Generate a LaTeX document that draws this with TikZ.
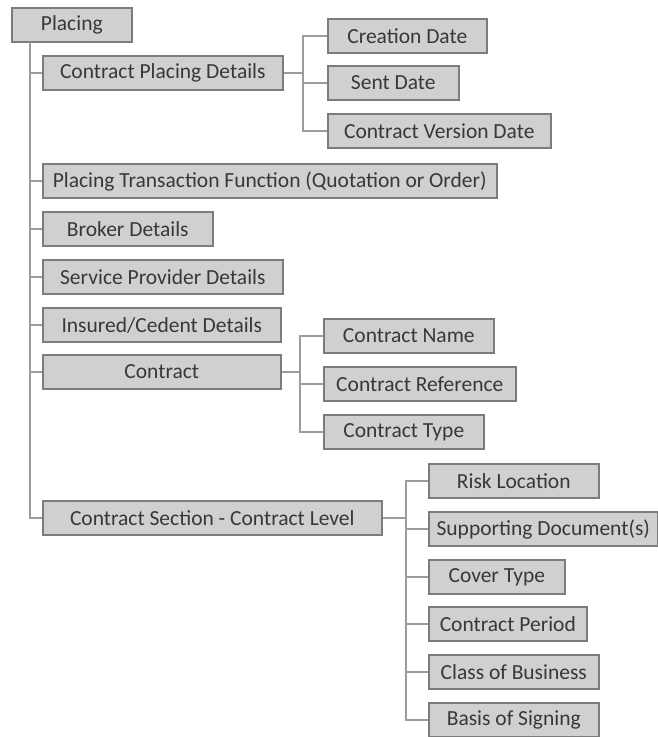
\documentclass[tikz,border=0pt]{standalone}
\usepackage{fontspec}
\setmainfont{Carlito}
\usepackage{tikz}
\usetikzlibrary{positioning}
\definecolor{boxfill}{HTML}{D0D0D0}
\definecolor{boxline}{HTML}{7C7C7C}
\definecolor{linkline}{HTML}{9C9C9C}
\definecolor{boxtext}{HTML}{383838}

\begin{document}
\begin{tikzpicture}
	[x=1pt, y=-1pt, font=\fontsize{21.5}{24}\selectfont,
	item/.style	= {rectangle, draw=boxline, fill=boxfill, line width=1.6pt, text=boxtext, anchor=west, inner sep=0pt, minimum height=34pt},
	link/.style	= {draw=linkline, line width=1.6pt}]
	
	\useasboundingbox (0,0) rectangle (657,737);
	
	% level one
	\node at (11, 25)	[item, minimum width=120pt]	(placing)	{Placing};
	\node at (42, 73)	[item, minimum width=240pt]	(cpd)		{Contract Placing Details};
	\node at (42, 181)	[item, minimum width=454pt]	(ptf)		{Placing Transaction Function (Quotation or Order)};
	\node at (42, 229)	[item, minimum width=170pt]	(broker)	{Broker Details};
	\node at (42, 277)	[item, minimum width=240pt]	(spd)		{Service Provider Details};
	\node at (42, 325)	[item, minimum width=238pt]	(insured)	{Insured/Cedent Details};
	\node at (42, 372)	[item, minimum width=238pt]	(contract)	{Contract};
	\node at (42, 518)	[item, minimum width=339pt]	(csec)		{Contract Section - Contract Level};
	
	% placing details
	\node at (327, 36)	[item, minimum width=159pt]	(creation)	{Creation Date};
	\node at (327, 83)	[item, minimum width=131pt]	(sent)		{Sent Date};
	\node at (327, 131)	[item, minimum width=223pt]	(cvd)		{Contract Version Date};
	
	% contract
	\node at (323, 336)	[item, minimum width=170pt]	(cname)		{Contract Name};
	\node at (323, 384)	[item, minimum width=192pt]	(cref)		{Contract Reference};
	\node at (323, 432)	[item, minimum width=160pt]	(ctype)		{Contract Type};
	
	% contract section
	\node at (428, 481)	[item, minimum width=170pt]	(risk)		{Risk Location};
	\node at (428, 529)	[item, minimum width=229pt]	(supp)		{Supporting Document(s)};
	\node at (428, 577)	[item, minimum width=136pt]	(cover)		{Cover Type};
	\node at (428, 624)	[item, minimum width=158pt]	(period)	{Contract Period};
	\node at (428, 672)	[item, minimum width=170pt]	(class)		{Class of Business};
	\node at (428, 720)	[item, minimum width=170pt]	(basis)		{Basis of Signing};
	
	\coordinate (trunk)		at (30, 42);
	\coordinate (cpdfork)	at (303, 73);
	\coordinate (confork)	at (300, 372);
	\coordinate (secfork)	at (406, 518);
	
	\draw [link] (trunk) |- (cpd.west);
	\draw [link] (trunk) |- (ptf.west);
	\draw [link] (trunk) |- (broker.west);
	\draw [link] (trunk) |- (spd.west);
	\draw [link] (trunk) |- (insured.west);
	\draw [link] (trunk) |- (contract.west);
	\draw [link] (trunk) |- (csec.west);
	
	\draw [link] (cpd.east) -- (cpdfork);
	\draw [link] (cpdfork) |- (creation.west);
	\draw [link] (cpdfork) |- (sent.west);
	\draw [link] (cpdfork) |- (cvd.west);
	
	\draw [link] (contract.east) -- (confork);
	\draw [link] (confork) |- (cname.west);
	\draw [link] (confork) |- (cref.west);
	\draw [link] (confork) |- (ctype.west);
	
	\draw [link] (csec.east) -- (secfork);
	\draw [link] (secfork) |- (risk.west);
	\draw [link] (secfork) |- (supp.west);
	\draw [link] (secfork) |- (cover.west);
	\draw [link] (secfork) |- (period.west);
	\draw [link] (secfork) |- (class.west);
	\draw [link] (secfork) |- (basis.west);
\end{tikzpicture}
\end{document}
